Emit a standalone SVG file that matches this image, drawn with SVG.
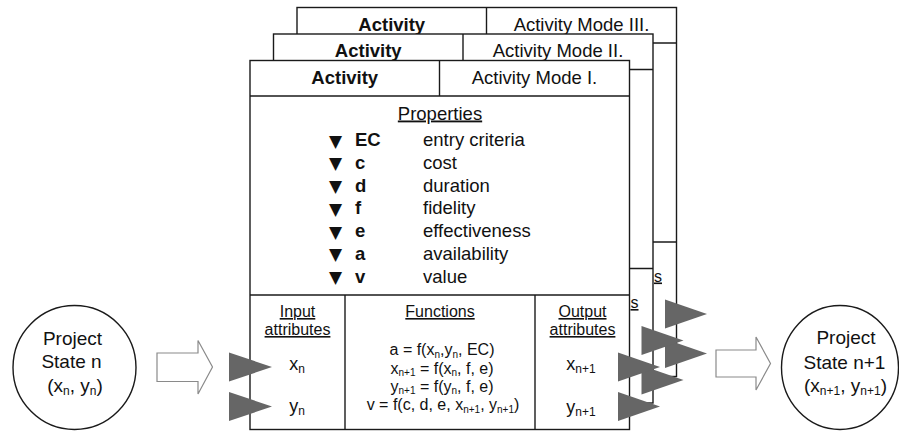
<svg xmlns="http://www.w3.org/2000/svg" xmlns:xlink="http://www.w3.org/1999/xlink" width="899" height="432" viewBox="0 0 899 432">
  <style>
    text { font-family: "Liberation Sans", Arial, sans-serif; fill: #111; }
    .hdr { font-size: 18.5px; }
    .bold { font-weight: bold; }
    .prop { font-size: 18.5px; }
    .col { font-size: 16px; text-decoration: underline; }
    .attr { font-size: 18px; }
    .fn { font-size: 16px; }
    .state { font-size: 19px; }
    .bullet { font-family: "DejaVu Sans", sans-serif; font-size: 17px; }
    .frame { fill: #fff; stroke: #1a1a1a; stroke-width: 1.4; }
    .rule { stroke: #1a1a1a; stroke-width: 1.4; fill: none; }
    .port { fill: #666; stroke: none; }
    .flow { fill: #fff; stroke: #8a8a8a; stroke-width: 1.2; }
    .node { fill: #fff; stroke: #1a1a1a; stroke-width: 1.4; }
  </style>
  <defs>
    <!-- one activity-mode card: header, properties area, attribute table and its ports -->
    <g id="card-frame">
      <rect class="frame" x="0" y="0" width="379.5" height="369"/>
      <line class="rule" x1="0" y1="35.5" x2="379.5" y2="35.5"/>
      <line class="rule" x1="189.5" y1="0" x2="189.5" y2="35.5"/>
      <line class="rule" x1="0" y1="234.5" x2="379.5" y2="234.5"/>
      <line class="rule" x1="95" y1="234.5" x2="95" y2="369"/>
      <line class="rule" x1="285" y1="234.5" x2="285" y2="369"/>
      <polygon class="port" points="-21,292 -21,321 22,306.5"/>
      <polygon class="port" points="-21,331.5 -21,360.5 22,346"/>
      <polygon class="port" points="368,292 368,321 410,306.5"/>
      <polygon class="port" points="368,331.5 368,360.5 410,346"/>
    </g>
  </defs>

  <!-- state nodes -->
  <g id="state-n">
    <ellipse class="node" cx="74.5" cy="367.5" rx="61.5" ry="62"/>
    <text class="state" x="72.5" y="345" text-anchor="middle">Project</text>
    <text class="state" x="71.5" y="368" text-anchor="middle">State n</text>
    <text class="state" x="75" y="392" text-anchor="middle">(x<tspan font-size="12" dy="3">n</tspan><tspan dy="-3">, y</tspan><tspan font-size="12" dy="3">n</tspan><tspan dy="-3">)</tspan></text>
  </g>
  <g id="state-n1">
    <ellipse class="node" cx="840" cy="367.5" rx="58.5" ry="62"/>
    <text class="state" x="846" y="344" text-anchor="middle">Project</text>
    <text class="state" x="844.5" y="369" text-anchor="middle">State n+1</text>
    <text class="state" x="845.5" y="391.5" text-anchor="middle">(x<tspan font-size="12" dy="3">n+1</tspan><tspan dy="-3">, y</tspan><tspan font-size="12" dy="3">n+1</tspan><tspan dy="-3">)</tspan></text>
  </g>

  <!-- activity mode III (back) -->
  <g id="mode-3">
    <use xlink:href="#card-frame" x="297" y="7.5"/>
    <text class="hdr bold" x="391.75" y="30.5" text-anchor="middle">Activity</text>
    <text class="hdr" x="581.5" y="30.5" text-anchor="middle">Activity Mode III.</text>
    <text class="col" x="654" y="281.5">s</text>
  </g>

  <!-- activity mode II (middle) -->
  <g id="mode-2">
    <use xlink:href="#card-frame" x="273.5" y="34"/>
    <text class="hdr bold" x="368.25" y="57" text-anchor="middle">Activity</text>
    <text class="hdr" x="558" y="57" text-anchor="middle">Activity Mode II.</text>
    <text class="col" x="630.5" y="308">s</text>
  </g>

  <!-- activity mode I (front) -->
  <g id="mode-1">
    <use xlink:href="#card-frame" x="250" y="60.5"/>
    <text class="hdr bold" x="344.75" y="84" text-anchor="middle">Activity</text>
    <text class="hdr" x="534.5" y="84" text-anchor="middle">Activity Mode I.</text>

    <text class="prop" x="440" y="119.5" text-anchor="middle" text-decoration="underline">Properties</text>
    <g>
      <text class="bullet" x="329" y="146.5">▼</text>
      <text class="prop bold" x="355" y="146">EC</text>
      <text class="prop" x="423" y="146">entry criteria</text>
      <text class="bullet" x="329" y="169.25">▼</text>
      <text class="prop bold" x="355" y="168.75">c</text>
      <text class="prop" x="423" y="168.75">cost</text>
      <text class="bullet" x="329" y="192">▼</text>
      <text class="prop bold" x="355" y="191.5">d</text>
      <text class="prop" x="423" y="191.5">duration</text>
      <text class="bullet" x="329" y="214.75">▼</text>
      <text class="prop bold" x="355" y="214.25">f</text>
      <text class="prop" x="423" y="214.25">fidelity</text>
      <text class="bullet" x="329" y="237.5">▼</text>
      <text class="prop bold" x="355" y="237">e</text>
      <text class="prop" x="423" y="237">effectiveness</text>
      <text class="bullet" x="329" y="260.25">▼</text>
      <text class="prop bold" x="355" y="259.75">a</text>
      <text class="prop" x="423" y="259.75">availability</text>
      <text class="bullet" x="329" y="283">▼</text>
      <text class="prop bold" x="355" y="282.5">v</text>
      <text class="prop" x="423" y="282.5">value</text>
    </g>

    <text class="col" x="297.5" y="317" text-anchor="middle">Input</text>
    <text class="col" x="297.5" y="335" text-anchor="middle">attributes</text>
    <text class="attr" x="297" y="369.5" text-anchor="middle">x<tspan font-size="12" dy="3">n</tspan></text>
    <text class="attr" x="297" y="412" text-anchor="middle">y<tspan font-size="12" dy="3">n</tspan></text>

    <text class="col" x="440" y="317" text-anchor="middle">Functions</text>
    <text class="fn" x="442" y="355" text-anchor="middle">a = f(x<tspan font-size="10" dy="2.5">n</tspan><tspan dy="-2.5">,y</tspan><tspan font-size="10" dy="2.5">n</tspan><tspan dy="-2.5">, EC)</tspan></text>
    <text class="fn" x="442" y="373.5" text-anchor="middle">x<tspan font-size="10" dy="2.5">n+1</tspan><tspan dy="-2.5"> = f(x</tspan><tspan font-size="10" dy="2.5">n</tspan><tspan dy="-2.5">, f, e)</tspan></text>
    <text class="fn" x="442" y="391.8" text-anchor="middle">y<tspan font-size="10" dy="2.5">n+1</tspan><tspan dy="-2.5"> = f(y</tspan><tspan font-size="10" dy="2.5">n</tspan><tspan dy="-2.5">, f, e)</tspan></text>
    <text class="fn" x="443" y="410" text-anchor="middle">v = f(c, d, e, x<tspan font-size="10" dy="2.5">n+1</tspan><tspan dy="-2.5">, y</tspan><tspan font-size="10" dy="2.5">n+1</tspan><tspan dy="-2.5">)</tspan></text>

    <text class="col" x="582.5" y="317" text-anchor="middle">Output</text>
    <text class="col" x="582.5" y="335" text-anchor="middle">attributes</text>
    <text class="attr" x="581" y="370" text-anchor="middle">x<tspan font-size="12" dy="3">n+1</tspan></text>
    <text class="attr" x="581" y="413" text-anchor="middle">y<tspan font-size="12" dy="3">n+1</tspan></text>
  </g>

  <!-- state transitions -->
  <g id="connectors">
    <polygon class="flow" points="157,353 198,353 198,340.5 212.5,367 198,394 198,381.5 157,381.5"/>
    <polygon class="flow" points="716,350 756,350 756,337 770.5,363.5 756,390 756,377 716,377"/>
  </g>
</svg>
